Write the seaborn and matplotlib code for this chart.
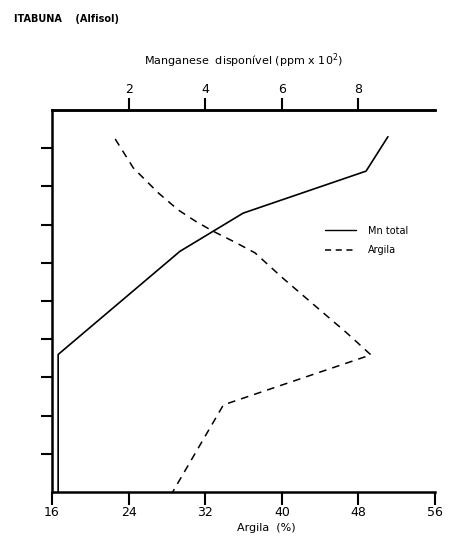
import matplotlib
matplotlib.use("Agg")
import matplotlib.pyplot as plt
import seaborn as sns
import pandas as pd
from matplotlib.lines import Line2D

# Profile depth (cm) and measured values
mn_depth = [7, 16, 27, 37, 64, 100]
mn_total = [8.77, 8.20, 4.99, 3.34, 0.16, 0.16]          # ppm x 10^2

argila_depth = [7.6, 15.2, 21.7, 26.2, 29.3, 31.7, 34.6, 37.4, 44.0, 52.4, 58.4, 64.1, 77.2, 100]
argila = [22.6, 24.5, 27.1, 29.2, 31.1, 32.8, 35.1, 37.2, 40.1, 44.0, 46.8, 49.3, 33.9, 28.6]  # %

argila_ticks = [16, 24, 32, 40, 48, 56]
mn_ticks = [2, 4, 6, 8]
depth_ticks = [10, 20, 30, 40, 50, 60, 70, 80, 90]

sns.set_theme(style="ticks")
plt.rcParams["font.family"] = ["DejaVu Sans"]
plt.rcParams.update({"text.color": "black", "axes.labelcolor": "black",
                     "xtick.color": "black", "ytick.color": "black"})

fig = plt.figure(figsize=(4.5, 5.5), dpi=100)
ax = fig.add_axes([0.1156, 0.1055, 0.8511, 0.6945])

df_arg = pd.DataFrame({"argila": argila, "depth": argila_depth})
df_mn = pd.DataFrame({"mn": mn_total, "depth": mn_depth})

sns.lineplot(data=df_arg, x="argila", y="depth", sort=False, estimator=None,
             color="black", lw=1.1, ax=ax)
ax.lines[-1].set_dashes([5, 4])
ax.set_xlim(16, 56)
ax.set_ylim(100, 0)
ax.set_xticks(argila_ticks)
ax.set_yticks(depth_ticks)
ax.set_yticklabels([])
ax.set_xlabel("Argila  (%)", fontsize=8)
ax.xaxis.set_label_coords(0.56, -0.08)
ax.set_ylabel("")

ax2 = ax.twiny()
sns.lineplot(data=df_mn, x="mn", y="depth", sort=False, estimator=None,
             color="black", lw=1.2, ax=ax2)
ax2.set_xlim(0, 10)
ax2.set_ylim(100, 0)
ax2.set_xticks(mn_ticks)
ax2.set_xlabel("Manganese  disponível (ppm x 10$^{2}$)", fontsize=8)
ax2.xaxis.set_label_coords(0.5, 1.12)
ax2.set_ylabel("")

for a in (ax, ax2):
    a.spines["right"].set_visible(False)
    for s in ("left", "bottom", "top"):
        a.spines[s].set_linewidth(1.8)
        a.spines[s].set_color("black")
ax2.spines["left"].set_visible(False)
ax2.spines["bottom"].set_visible(False)

ax.tick_params(axis="x", direction="out", length=9, width=1.5, labelsize=9,
               pad=1, colors="black")
ax.tick_params(axis="y", direction="out", length=8, width=1.5, colors="black")
ax2.tick_params(axis="x", direction="out", length=9, width=1.5, labelsize=9,
                pad=1, colors="black")

handles = [Line2D([], [], color="black", lw=1.0),
           Line2D([], [], color="black", lw=1.1, dashes=[4, 3])]
ax.legend(handles, ["Mn total", "Argila"], loc="upper left",
          bbox_to_anchor=(0.69, 0.72), frameon=False, fontsize=7,
          handlelength=3.2, handletextpad=1.2, labelspacing=1.0)

fig.text(0.03, 0.965, "ITABUNA    (Alfisol)", fontsize=7, fontweight="bold",
         ha="left", va="center", color="black")

fig.savefig("out.png", dpi=100, facecolor="white")
